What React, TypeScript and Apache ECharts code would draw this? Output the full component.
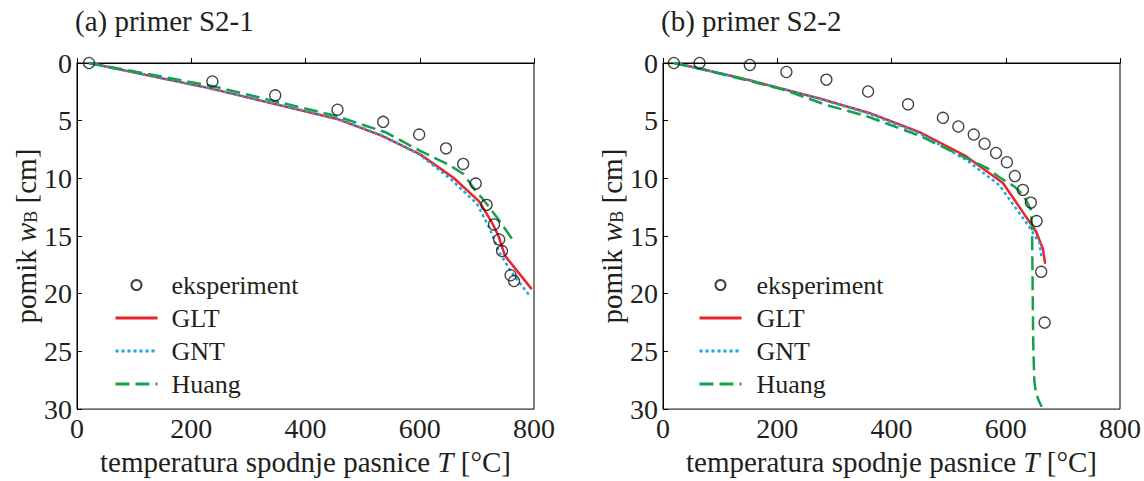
import React, { useEffect, useRef } from "react";
import * as echarts from "echarts";

const FONT = '"Liberation Serif", "Times New Roman", serif';
const TXT = "#231f20";
const RED = "#e8242c";
const BLUE = "#1aa7e6";
const GREEN = "#12a24b";

const X_TICKS = [0, 200, 400, 600, 800];
const Y_TICKS = [0, 5, 10, 15, 20, 25, 30];
const TITLES = ["(a) primer S2-1", "(b) primer S2-2"];
const LEGEND_NAMES = ["eksperiment", "GLT", "GNT", "Huang"];

// panel (a) S2-1: [T (°C), w_B (cm)]
const A_EXP = [[21, 0], [237, 1.6], [347, 2.8], [456, 4.05], [536, 5.1], [599, 6.2], [646, 7.4], [676, 8.75], [698, 10.45], [717, 12.3], [730, 14.0], [739, 15.3], [744, 16.3], [759, 18.4], [765, 18.9]];
const A_GLT = [[21, 0], [233, 2.2], [455, 4.85], [533, 6.3], [600, 7.9], [659, 9.95], [704, 12.0], [726, 13.8], [738, 15.0], [749, 16.7], [796, 19.6]];
const A_GNT = [[21, 0], [233, 2.2], [455, 4.8], [533, 6.25], [600, 7.95], [655, 10.1], [700, 12.2], [722, 14.3], [738, 16.3], [760, 18.1], [793, 20.2]];
const A_HUANG = [[21, 0], [237, 2.0], [454, 4.6], [540, 6.0], [600, 7.6], [650, 8.8], [676, 9.6], [697, 11.0], [717, 12.2], [737, 13.5], [758, 15.0], [767, 15.6]];

// panel (b) S2-2
const B_EXP = [[19, 0], [64, 0], [152, 0.17], [216, 0.78], [286, 1.44], [359, 2.47], [429, 3.58], [490, 4.75], [517, 5.5], [544, 6.2], [563, 7.0], [583, 7.8], [602, 8.6], [616, 9.8], [630, 11.0], [644, 12.1], [654, 13.7], [662, 18.1], [668, 22.5]];
const B_GLT = [[19, 0], [64, 0.47], [152, 1.5], [274, 3.08], [361, 4.33], [449, 6.0], [531, 8.1], [595, 10.4], [653, 14.6], [665, 16.1], [669, 17.4]];
const B_GNT = [[19, 0], [64, 0.47], [152, 1.5], [274, 3.1], [361, 4.4], [449, 6.1], [531, 8.4], [589, 10.6], [641, 14.2], [659, 15.6], [663, 17.0]];
const B_HUANG = [[19, 0], [64, 0.5], [152, 1.56], [216, 2.39], [286, 3.64], [356, 4.6], [449, 6.3], [531, 8.25], [566, 9.06], [589, 9.9], [615, 10.7], [630, 11.4], [644, 12.7], [646, 14.2], [648, 24.0], [650, 27.6], [653, 28.6], [658, 29.3], [663, 29.8]];

const GRIDS = [
  { left: 77, top: 63, width: 457, height: 360 },
  { left: 663, top: 63, width: 457, height: 360 },
];

export default function App() {
  const ref = useRef<HTMLDivElement>(null);
  useEffect(() => {
    document.body.style.margin = "0";
    const chart = echarts.init(ref.current!, null, { renderer: "svg" });
    const xAxis = GRIDS.map((_, i) => ({
      type: "value",
      gridIndex: i,
      min: X_TICKS[0],
      max: X_TICKS[X_TICKS.length - 1],
      interval: 200,
      name: "temperatura spodnje pasnice {i|T} [°C]",
      nameLocation: "middle",
      nameGap: 28,
      nameTextStyle: {
        fontFamily: FONT, fontSize: 29, color: TXT,
        rich: { i: { fontFamily: FONT, fontSize: 29, fontStyle: "italic", color: TXT } },
      },
      axisLine: { show: true, lineStyle: { color: "#000", width: 1 } },
      axisTick: { show: true, inside: true, length: 5, lineStyle: { color: "#000" } },
      axisLabel: { fontFamily: FONT, fontSize: 28, color: TXT, margin: 5 },
      splitLine: { show: false },
    }));
    const yAxis = GRIDS.map((_, i) => ({
      type: "value",
      gridIndex: i,
      inverse: true,
      min: Y_TICKS[0],
      max: Y_TICKS[Y_TICKS.length - 1],
      interval: 5,
      name: "{n|pomik }{i|w}{s|B}{n| [cm]}",
      nameLocation: "middle",
      nameGap: i === 0 ? 33 : 37,
      nameTextStyle: {
        fontFamily: FONT, fontSize: 29, color: TXT,
        rich: {
          n: { fontFamily: FONT, fontSize: 29, color: TXT },
          i: { fontFamily: FONT, fontSize: 29, fontStyle: "italic", color: TXT },
          s: { fontFamily: FONT, fontSize: 18, color: TXT, lineHeight: 12, verticalAlign: "bottom" },
        },
      },
      axisLine: { show: true, lineStyle: { color: "#000", width: 1 } },
      axisTick: { show: true, inside: true, length: 5, lineStyle: { color: "#000" } },
      axisLabel: {
        fontFamily: FONT, fontSize: 28, color: TXT, margin: 5,
        formatter: (v: number) => (v === 30 ? "{b|30}" : String(v)),
        rich: { b: { fontFamily: FONT, fontSize: 28, color: TXT, padding: [0, 0, 0, 0] } },
      },
      splitLine: { show: false },
    }));
    const lineSeries = (name: string, data: number[][], idx: number, color: string, type: any) => ({
      name,
      type: "line",
      xAxisIndex: idx,
      yAxisIndex: idx,
      data,
      showSymbol: false,
      symbol: "none",
      lineStyle: { color, width: 2.5, type },
      itemStyle: { color },
      z: 3,
    });
    const expSeries = (data: number[][], idx: number) => ({
      name: "eksperiment",
      type: "scatter",
      xAxisIndex: idx,
      yAxisIndex: idx,
      data,
      symbol: "circle",
      symbolSize: 11,
      itemStyle: { color: "rgba(0,0,0,0)", borderColor: "#111", borderWidth: 1.3 },
      z: 4,
    });
    const legend = (left: number, padL: number) => ({
      left,
      top: 267,
      orient: "vertical",
      itemWidth: 42,
      itemHeight: 10,
      itemGap: 7,
      data: LEGEND_NAMES.map((n, k) =>
        k === 0 ? { name: n } : { name: n, itemStyle: { opacity: 0 } }
      ),
      selectedMode: false,
      lineStyle: { width: 3 },
      textStyle: { fontFamily: FONT, fontSize: 26, color: TXT, lineHeight: 26, padding: [0, 0, 0, padL] },
    });
    chart.setOption({
      animation: false,
      backgroundColor: "#fff",
      title: TITLES.map((t, i) => ({
        text: t,
        left: GRIDS[i].left - 2,
        top: 6,
        padding: 0,
        textStyle: { fontFamily: FONT, fontSize: 29, fontWeight: "normal", color: TXT },
      })),
      legend: [legend(109, 9), legend(693, 10)],
      grid: GRIDS.map((g) => ({ ...g, show: true, borderColor: "#000", borderWidth: 1, backgroundColor: "transparent" })),
      xAxis,
      yAxis,
      series: [
        lineSeries("GLT", A_GLT, 0, RED, "solid"),
        lineSeries("GNT", A_GNT, 0, BLUE, [3, 3]),
        lineSeries("Huang", A_HUANG, 0, GREEN, [14, 6]),
        expSeries(A_EXP, 0),
        lineSeries("GLT", B_GLT, 1, RED, "solid"),
        lineSeries("GNT", B_GNT, 1, BLUE, [3, 3]),
        lineSeries("Huang", B_HUANG, 1, GREEN, [14, 6]),
        expSeries(B_EXP, 1),
      ],
    });
    return () => chart.dispose();
  }, []);
  return <div ref={ref} style={{ position: "absolute", left: 0, top: 0, width: 1144, height: 481 }} />;
}
